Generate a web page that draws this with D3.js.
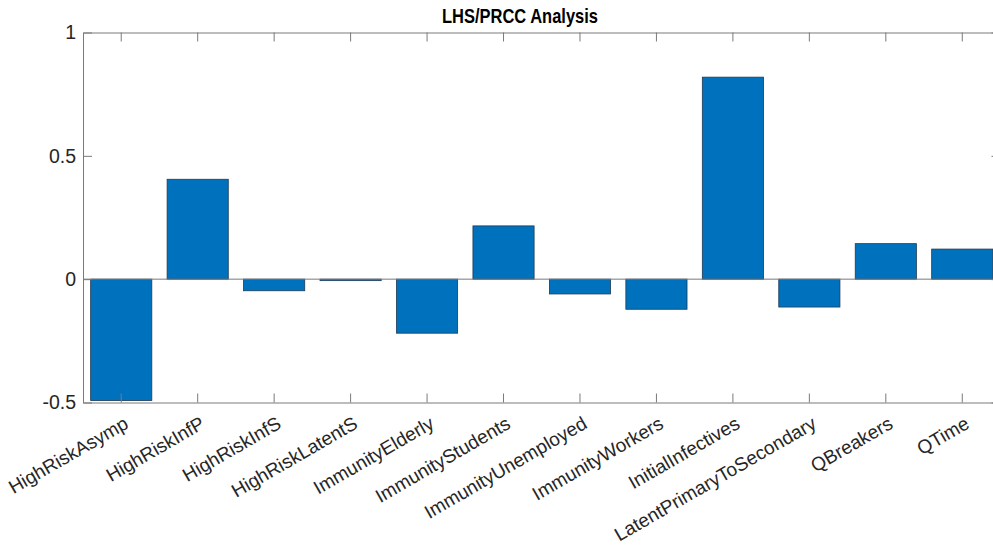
<!DOCTYPE html>
<html><head><meta charset="utf-8">
<script src="https://cdn.jsdelivr.net/npm/d3@7"></script>
<style>body{margin:0;background:#fff}svg{display:block}</style>
</head><body>
<svg id="c" width="993" height="550"></svg>
<script>
const categories = ["HighRiskAsymp","HighRiskInfP","HighRiskInfS","HighRiskLatentS","ImmunityElderly","ImmunityStudents","ImmunityUnemployed","ImmunityWorkers","InitialInfectives","LatentPrimaryToSecondary","QBreakers","QTime"];
const prcc = [-0.492, 0.405, -0.047, -0.006, -0.219, 0.216, -0.060, -0.122, 0.819, -0.113, 0.144, 0.122];
const yTicks = [-0.5, 0, 0.5, 1];
const yTickLabels = ["-0.5", "0", "0.5", "1"];
const chartTitle = "LHS/PRCC Analysis";

(function(){
const svg = d3.select("#c");
const L = 83, R = 1000.5, T = 32.5, B = 402.5;
const axisColor = "#7a7a7a", textColor = "#262626", font = "'Liberation Sans', Arial, sans-serif";

const x = d3.scaleBand().domain(categories).range([L, R]).paddingInner(0.2).paddingOuter(0.1);
const y = d3.scaleLinear().domain([-0.5, 1]).range([B, T]);

// bars
svg.append("g").selectAll("rect").data(categories).join("rect")
  .attr("x", d => x(d))
  .attr("width", x.bandwidth())
  .attr("y", (d, i) => y(Math.max(0, prcc[i])))
  .attr("height", (d, i) => Math.abs(y(prcc[i]) - y(0)))
  .attr("fill", "#0072BD")
  .attr("stroke", "#1f3a55")
  .attr("stroke-width", 0.8);

// baseline
svg.append("line").attr("x1", L).attr("x2", R).attr("y1", y(0)).attr("y2", y(0))
  .attr("stroke", axisColor).attr("stroke-width", 1);

// box axes
const tick = 9;
const axB = d3.axisBottom(x).tickSizeInner(-tick).tickSizeOuter(0).tickFormat("");
const axT = d3.axisTop(x).tickSizeInner(-tick).tickSizeOuter(0).tickFormat("");
const axL = d3.axisLeft(y).tickValues(yTicks).tickSizeInner(-tick).tickSizeOuter(0).tickFormat("");
const axR = d3.axisRight(y).tickValues(yTicks).tickSizeInner(-tick).tickSizeOuter(0).tickFormat("");
function style(g){ g.selectAll("path,line").attr("stroke", axisColor).attr("stroke-width", 1); }
svg.append("g").attr("transform", `translate(0,${B})`).call(axB).call(style);
svg.append("g").attr("transform", `translate(0,${T})`).call(axT).call(style);
svg.append("g").attr("transform", `translate(${L},0)`).call(axL).call(style);
svg.append("g").attr("transform", `translate(${R},0)`).call(axR).call(style);

// y tick labels
svg.append("g").selectAll("text").data(yTicks).join("text")
  .attr("x", L - 7).attr("y", d => y(d)).attr("dy", "0.35em")
  .attr("text-anchor", "end").attr("font-family", font).attr("font-size", 19.5)
  .attr("fill", textColor).text((d, i) => yTickLabels[i]);

// category labels
svg.append("g").selectAll("text").data(categories).join("text")
  .attr("transform", d => `translate(${x(d) + x.bandwidth() / 2 + 5},${B + 19}) rotate(-30)`)
  .attr("text-anchor", "end").attr("dy", "0.35em")
  .attr("font-family", font).attr("font-size", 19).attr("fill", textColor)
  .text(d => d);

// title
svg.append("text").attr("x", 520).attr("y", 23).attr("text-anchor", "middle")
  .attr("font-family", font).attr("font-weight", "bold").attr("font-size", 20.5)
  .attr("textLength", 156).attr("lengthAdjust", "spacingAndGlyphs")
  .attr("fill", "#000").text(chartTitle);
})();
</script>
</body></html>
